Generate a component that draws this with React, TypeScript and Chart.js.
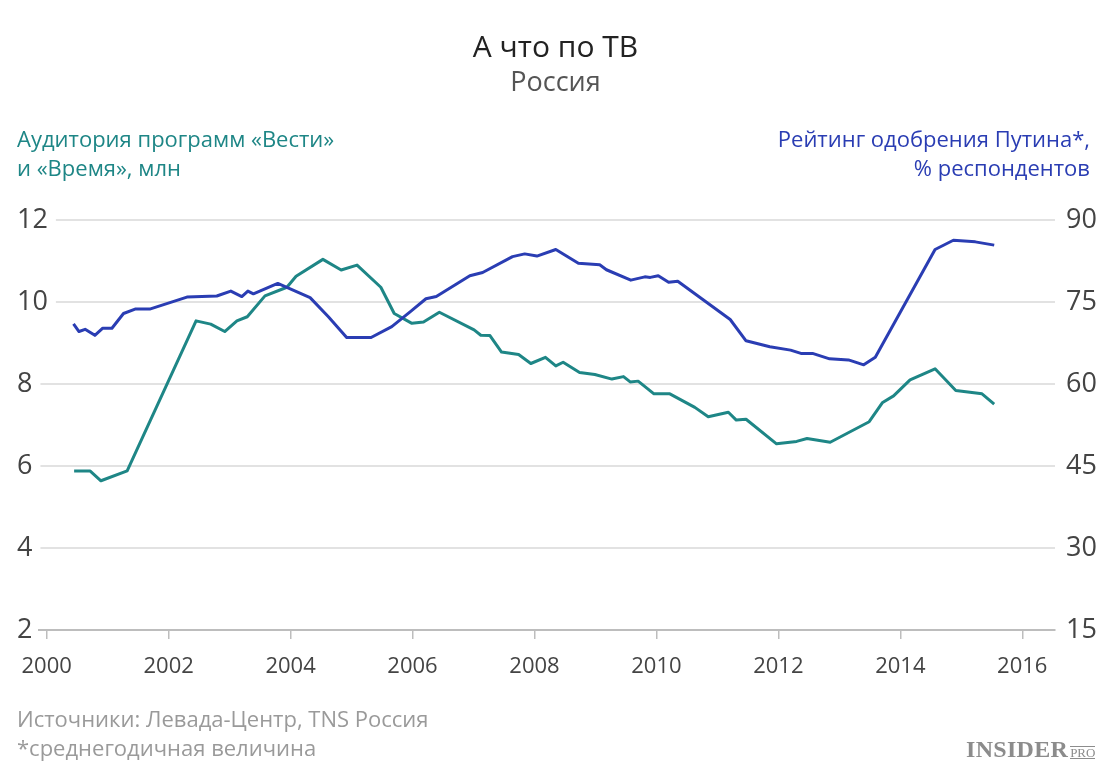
import React, { useEffect, useRef } from "react";
import { Chart, registerables } from "chart.js";

Chart.register(...registerables);

// Audience of "Вести" and "Время" programmes, mln
const audienceYears = [
  2000.45, 2000.71, 2000.89, 2001.32, 2002.45, 2002.69, 2002.92, 2003.12, 2003.29, 2003.58,
  2003.94, 2004.09, 2004.53, 2004.83, 2005.09, 2005.48, 2005.7, 2005.99, 2006.18, 2006.44,
  2007.01, 2007.12, 2007.27, 2007.46, 2007.74, 2007.94, 2008.18, 2008.35, 2008.47, 2008.74,
  2008.99, 2009.27, 2009.46, 2009.57, 2009.7, 2009.96, 2010.22, 2010.63, 2010.85, 2011.18,
  2011.31, 2011.47, 2011.97, 2012.3, 2012.47, 2012.85, 2013.49, 2013.71, 2013.89, 2014.16,
  2014.57, 2014.91, 2015.34, 2015.54,
];
const audienceValues = [
  5.88, 5.88, 5.64, 5.88, 9.54, 9.46, 9.28, 9.54, 9.64, 10.15,
  10.36, 10.63, 11.04, 10.78, 10.9, 10.36, 9.72, 9.48, 9.51, 9.75,
  9.32, 9.19, 9.18, 8.78, 8.72, 8.5, 8.65, 8.44, 8.53, 8.28,
  8.23, 8.12, 8.18, 8.05, 8.07, 7.76, 7.76, 7.43, 7.2, 7.31,
  7.12, 7.14, 6.54, 6.6, 6.67, 6.58, 7.08, 7.55, 7.71, 8.1,
  8.37, 7.84, 7.76, 7.51,
];

// Putin approval rating, % of respondents
const approvalYears = [
  2000.44, 2000.53, 2000.63, 2000.79, 2000.92, 2001.07, 2001.26, 2001.45, 2001.69, 2002.3,
  2002.79, 2003.02, 2003.2, 2003.3, 2003.39, 2003.79, 2004.32, 2004.62, 2004.92, 2005.32,
  2005.66, 2005.96, 2006.22, 2006.39, 2006.94, 2007.15, 2007.64, 2007.84, 2008.04, 2008.35,
  2008.72, 2009.07, 2009.18, 2009.58, 2009.81, 2009.9, 2010.03, 2010.2, 2010.35, 2011.21,
  2011.47, 2011.86, 2012.2, 2012.37, 2012.56, 2012.84, 2013.15, 2013.4, 2013.59, 2014.57,
  2014.87, 2015.23, 2015.54,
];
const approvalValues = [
  71.0, 69.6, 70.0, 68.9, 70.2, 70.2, 72.9, 73.7, 73.7, 75.9,
  76.1, 77.0, 76.0, 77.0, 76.5, 78.4, 75.8, 72.3, 68.5, 68.5,
  70.5, 73.2, 75.6, 76.0, 79.8, 80.4, 83.3, 83.8, 83.4, 84.6,
  82.1, 81.8, 80.9, 79.0, 79.6, 79.5, 79.8, 78.6, 78.8, 71.8,
  67.9, 66.8, 66.2, 65.6, 65.6, 64.6, 64.4, 63.5, 64.9, 84.6,
  86.3, 86.0, 85.4,
];

const xTickYears = [2000, 2002, 2004, 2006, 2008, 2010, 2012, 2014, 2016];
const leftTicks = [2, 4, 6, 8, 10, 12];
const rightTicks = [15, 30, 45, 60, 75, 90];

const TEAL = "#1e8686";
const BLUE = "#2a3db3";
const FONT = '"Open Sans", "Noto Sans", sans-serif';
const LEFT_LABEL_X = 17;

const gridPlugin = {
  id: "hgrid",
  beforeDatasetsDraw(chart: any) {
    const { ctx, chartArea, scales } = chart;
    const yl = scales.yLeft;
    ctx.save();
    ctx.font = `27px ${FONT}`;
    ctx.strokeStyle = "#e2e2e2";
    ctx.lineWidth = 2;
    yl.ticks.forEach((t: any) => {
      if (t.value === yl.min) return;
      const y = Math.round(yl.getPixelForValue(t.value));
      const w = ctx.measureText(String(t.value)).width;
      const x0 = Math.max(chartArea.left, LEFT_LABEL_X + w + 8);
      ctx.beginPath();
      ctx.moveTo(x0, y);
      ctx.lineTo(chartArea.right, y);
      ctx.stroke();
    });
    ctx.restore();
  },
};

export default function App() {
  const ref = useRef<HTMLCanvasElement | null>(null);

  useEffect(() => {
    if (!ref.current) return;
    const chart = new Chart(ref.current, {
      type: "line",
      data: {
        datasets: [
          {
            label: "Рейтинг одобрения Путина",
            data: approvalYears.map((x, i) => ({ x, y: approvalValues[i] })),
            borderColor: BLUE,
            borderWidth: 3,
            pointRadius: 0,
            tension: 0,
            borderJoinStyle: "round",
            yAxisID: "yRight",
          },
          {
            label: "Аудитория программ",
            data: audienceYears.map((x, i) => ({ x, y: audienceValues[i] })),
            borderColor: TEAL,
            borderWidth: 3,
            pointRadius: 0,
            tension: 0,
            borderJoinStyle: "round",
            yAxisID: "yLeft",
          },
        ],
      },
      options: {
        responsive: false,
        maintainAspectRatio: false,
        animation: false,
        layout: { padding: { top: 220, left: 39, right: 0, bottom: 0 } },
        plugins: { legend: { display: false }, tooltip: { enabled: false }, title: { display: false } },
        scales: {
          x: {
            type: "linear",
            min: 1999.874,
            max: 2016.537,
            afterBuildTicks: (s: any) => {
              s.ticks = xTickYears.map((v) => ({ value: v }));
            },
            afterFit: (s: any) => {
              s.height = 145;
            },
            grid: { display: true, drawOnChartArea: false, drawTicks: true, tickLength: 9, color: "#bdbdbd", lineWidth: 1.5 },
            border: { display: true, color: "#bdbdbd", width: 2 },
            ticks: {
              autoSkip: false,
              maxRotation: 0,
              padding: 15,
              color: "#444",
              font: { family: FONT, size: 22 },
              callback: (v: any) => String(v),
            },
          },
          yLeft: {
            type: "linear",
            position: "left",
            min: 2,
            max: 12,
            afterBuildTicks: (s: any) => {
              s.ticks = leftTicks.map((v) => ({ value: v }));
            },
            afterFit: (s: any) => {
              s.width = 0;
            },
            grid: { display: false },
            border: { display: false },
            ticks: {
              mirror: true,
              padding: LEFT_LABEL_X - 39,
              color: "#444",
              font: { family: FONT, size: 27 },
              callback: (v: any) => String(v),
            },
          },
          yRight: {
            type: "linear",
            position: "right",
            min: 15,
            max: 90,
            afterBuildTicks: (s: any) => {
              s.ticks = rightTicks.map((v) => ({ value: v }));
            },
            afterFit: (s: any) => {
              s.width = 56;
            },
            grid: { display: false },
            border: { display: false },
            ticks: {
              padding: 3,
              color: "#444",
              font: { family: FONT, size: 27 },
              callback: (v: any) => String(v),
            },
          },
        },
      },
      plugins: [gridPlugin],
    });
    if ((document as any).fonts && (document as any).fonts.ready) {
      (document as any).fonts.ready.then(() => {
        try { chart.update(); } catch (e) {}
      });
    }
    return () => chart.destroy();
  }, []);

  const abs = (style: React.CSSProperties): React.CSSProperties => ({
    position: "absolute",
    whiteSpace: "nowrap",
    fontFamily: FONT,
    margin: 0,
    ...style,
  });

  return (
    <div style={{ position: "absolute", left: 0, top: 0, width: 1111, height: 775, background: "#fff", overflow: "hidden" }}>
      <canvas ref={ref} width={1111} height={775} style={{ position: "absolute", left: 0, top: 0, width: 1111, height: 775 }} />
      <div style={abs({ left: 0, width: 1111, top: 31, textAlign: "center", fontSize: 30, lineHeight: "30px", color: "#222" })}>
        А что по ТВ
      </div>
      <div style={abs({ left: 0, width: 1111, top: 67, textAlign: "center", fontSize: 27, lineHeight: "27px", color: "#555" })}>
        Россия
      </div>
      <div style={abs({ left: 17, top: 124, fontSize: 22, lineHeight: "29px", color: TEAL })}>
        Аудитория программ «Вести»
        <br />и «Время», млн
      </div>
      <div style={abs({ right: 21, top: 124, fontSize: 22, lineHeight: "29px", color: BLUE, textAlign: "right" })}>
        Рейтинг одобрения Путина*,
        <br />% респондентов
      </div>
      <div style={abs({ left: 17, top: 704, fontSize: 22, lineHeight: "29px", color: "#9a9a9a" })}>
        Источники: Левада-Центр, TNS Россия
        <br />*среднегодичная величина
      </div>
      <div style={abs({ left: 966, top: 737, fontFamily: '"Liberation Serif", "DejaVu Serif", serif', fontWeight: 700, fontSize: 24, lineHeight: "24px", color: "#8c8c8c", letterSpacing: 0.3 })}>
        INSIDER
        <span style={{ display: "inline-block", marginLeft: 2, fontSize: 13, lineHeight: "11px", fontWeight: 400, letterSpacing: 0, borderTop: "1px solid #8c8c8c", borderBottom: "1px solid #8c8c8c", verticalAlign: "baseline" }}>
          PRO
        </span>
      </div>
    </div>
  );
}
